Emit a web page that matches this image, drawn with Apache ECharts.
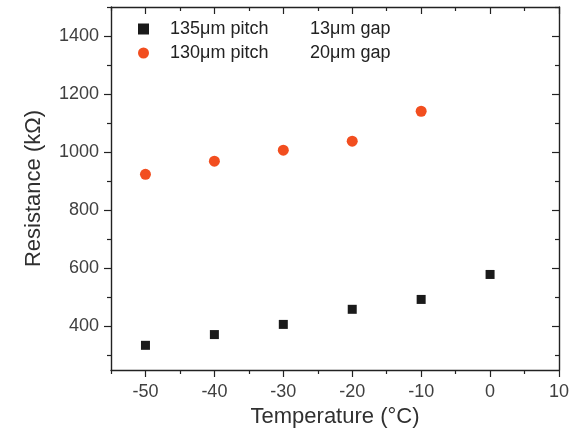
<!DOCTYPE html>
<html>
<head>
<meta charset="utf-8">
<script src="https://cdn.jsdelivr.net/npm/echarts@6/dist/echarts.min.js"></script>
<style>html,body{margin:0;padding:0;background:#fff}#c{width:580px;height:430px}</style>
</head>
<body>
<div id="c"></div>
<script>
const temps1 = [-50, -40, -30, -20, -10, 0];
const res1 = [335, 372, 407, 459, 493, 579];
const temps2 = [-50, -40, -30, -20, -10];
const res2 = [924, 969, 1007, 1038, 1141];
const seriesNames = ['135\u03bcm pitch', '130\u03bcm pitch'];
const gapNames = ['13\u03bcm gap', '20\u03bcm gap'];
const xMajor = [-50, -40, -30, -20, -10, 0, 10];
const xMinor = [-55, -45, -35, -25, -15, -5, 5];
const yMajor = [400, 600, 800, 1000, 1200, 1400];
const yMinor = [300, 500, 700, 900, 1100, 1300, 1500];

const font = 'Liberation Sans, Arial, sans-serif';
const lineStyle = {color: '#222', width: 1.4};
function xAx(pos, vals, len, inside, showLine, labels, name) {
  return {
    type: 'value', position: pos, min: -55, max: 10,
    axisLine: {show: showLine, onZero: false, lineStyle: lineStyle},
    axisTick: {show: true, inside: inside, length: len, customValues: vals, lineStyle: {color: '#222', width: 1.2}},
    axisLabel: labels ? {show: true, customValues: vals, fontSize: 18, color: '#404040', fontFamily: font, margin: 13, formatter: v => String(v)} : {show: false},
    splitLine: {show: false},
    name: name || '', nameLocation: 'middle', nameGap: 36,
    nameTextStyle: {fontSize: 22, color: '#303030', fontFamily: font}
  };
}
function yAx(pos, vals, len, inside, showLine, labels, name) {
  return {
    type: 'value', position: pos, min: 250, max: 1500,
    axisLine: {show: showLine, onZero: false, lineStyle: lineStyle},
    axisTick: {show: true, inside: inside, length: len, customValues: vals, lineStyle: {color: '#222', width: 1.2}},
    axisLabel: labels ? {show: true, customValues: vals, fontSize: 18, color: '#404040', fontFamily: font, margin: 12, formatter: v => String(v)} : {show: false},
    splitLine: {show: false},
    name: name || '', nameLocation: 'middle', nameGap: 66, nameRotate: 90,
    nameTextStyle: {fontSize: 22, color: '#303030', fontFamily: font}
  };
}
const chart = echarts.init(document.getElementById('c'), null, {renderer: 'canvas'});
chart.setOption({
  animation: false,
  backgroundColor: '#fff',
  grid: {left: 111, right: 21, top: 7, bottom: 60, containLabel: false, outerBoundsMode: 'none'},
  xAxis: [
    xAx('bottom', xMajor, 7, false, true, true, 'Temperature (\u00b0C)'),
    xAx('bottom', xMinor, 4, false, false, false),
    xAx('top', xMajor, 7, true, true, false),
    xAx('top', xMinor, 4, true, false, false)
  ],
  yAxis: [
    yAx('left', yMajor, 7, false, true, true, 'Resistance (k\u03a9)'),
    yAx('left', yMinor, 4, false, false, false),
    yAx('right', yMajor, 7, true, true, false),
    yAx('right', yMinor, 4, true, false, false)
  ],
  legend: {
    left: 133, top: 15, orient: 'vertical', itemGap: 6, itemWidth: 11, itemHeight: 11,
    data: seriesNames,
    formatter: function (n) {
      const i = seriesNames.indexOf(n);
      return '{a|' + n + '}{b|' + gapNames[i] + '}';
    },
    textStyle: {
      fontSize: 18, color: '#222', fontFamily: font,
      rich: {a: {width: 140, fontSize: 18, fontFamily: font, color: '#222', padding: [0, 0, 0, 16]}, b: {fontSize: 18, fontFamily: font, color: '#222'}}
    }
  },
  series: [
    {name: seriesNames[0], type: 'scatter', xAxisIndex: 0, yAxisIndex: 0, symbol: 'rect', symbolSize: 9,
     itemStyle: {color: '#1a1a1a', opacity: 1}, data: temps1.map((t, i) => [t, res1[i]])},
    {name: seriesNames[1], type: 'scatter', xAxisIndex: 0, yAxisIndex: 0, symbol: 'circle', symbolSize: 11,
     itemStyle: {color: '#f24e1f', opacity: 1}, data: temps2.map((t, i) => [t, res2[i]])}
  ]
});
</script>
</body>
</html>
